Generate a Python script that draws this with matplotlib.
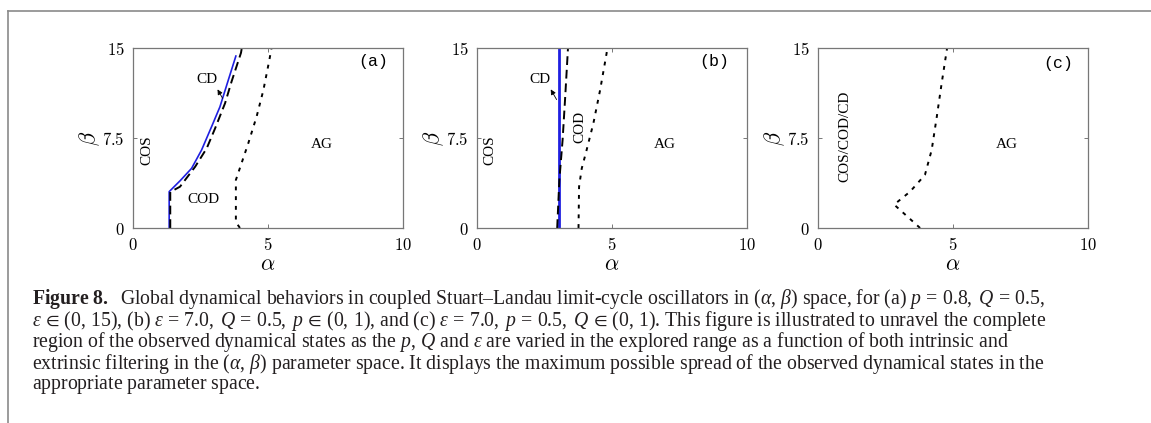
import matplotlib.pyplot as plt
from matplotlib.lines import Line2D

plt.rcParams['mathtext.fontset'] = 'cm'
# caption math uses the body serif (custom fontset, picked per text)
plt.rcParams['mathtext.rm'] = 'Liberation Serif'
plt.rcParams['mathtext.it'] = 'Liberation Serif:italic'
plt.rcParams['mathtext.bf'] = 'Liberation Serif:bold'
plt.rcParams['mathtext.fallback'] = 'stix'

# panel (a): p = 0.8, Q = 0.5
a_cd_alpha = [1.34, 1.34, 1.75, 2.17, 2.54, 2.91, 3.22, 3.53, 3.81]
a_cd_beta = [0, 3.03, 3.95, 4.97, 6.5, 8.44, 10.1, 12.33, 14.33]
a_cod_alpha = [1.38, 1.38, 1.74, 2.30, 2.73, 3.04, 3.41, 3.65, 4.0, 4.03]
a_cod_beta = [0, 3.0, 3.44, 5.1, 6.64, 8.3, 10.4, 12.2, 14.6, 15]
a_ag_alpha = [3.96, 3.81, 3.81, 4.02, 4.27, 4.58, 4.83, 5.05, 5.13]
a_ag_beta = [0, 0.5, 4.0, 5.4, 7.06, 9.3, 11.5, 14.0, 15]

# panel (b): eps = 7.0, Q = 0.5
b_cd_alpha = [3.02, 3.02]
b_cd_beta = [0, 15]
b_cod_alpha = [2.97, 3.05, 3.17, 3.26, 3.37]
b_cod_beta = [0, 4.0, 7.33, 10.67, 15]
b_ag_alpha = [3.76, 3.78, 3.88, 4.06, 4.31, 4.56, 4.80, 4.82]
b_ag_beta = [0, 3.44, 4.97, 6.5, 8.72, 11.5, 14.56, 15]

# panel (c): eps = 7.0, p = 0.5
c_ag_alpha = [3.78, 2.82, 3.41, 3.96, 4.21, 4.40, 4.58, 4.77, 4.78]
c_ag_beta = [0, 1.95, 3.03, 4.42, 6.5, 9.28, 12.06, 14.83, 15]

x_ticks = [0, 5, 10]
y_ticks = [0, 7.5, 15]
x_ticklabels = ['$0$', '$5$', '$10$']
y_ticklabels = ['$0$', '$7.5$', '$15$']

W, H = 1151, 423
fig = plt.figure(figsize=(W / 100, H / 100), dpi=100)

# partial frame around the figure
fig.add_artist(Line2D([8 / W, 1], [1 - 11 / H, 1 - 11 / H], color='#8a8a8a', lw=1.2))
fig.add_artist(Line2D([8 / W, 8 / W], [0, 1 - 11 / H], color='#8a8a8a', lw=1.2))

lefts = [133, 477, 818]
axes = []
for lx in lefts:
    ax = fig.add_axes([lx / W, (H - 228) / H, 270 / W, 180 / H])
    ax.set_xlim(0, 10)
    ax.set_ylim(0, 15)
    ax.set_xticks(x_ticks)
    ax.set_yticks(y_ticks)
    ax.set_xticklabels(x_ticklabels, fontsize=12)
    ax.set_yticklabels(y_ticklabels, fontsize=12)
    ax.tick_params(direction='in', length=3, width=0.7, color='#777777',
                   top=True, right=True, pad=6)
    for s in ax.spines.values():
        s.set_color('#777777')
        s.set_linewidth(0.9)
    ax.set_xlabel(r'$\alpha$', fontsize=16, labelpad=0)
    ax.set_ylabel(r'$\beta$', fontsize=16, labelpad=0.5)
    axes.append(ax)

dash = (0, (4.5, 2.5))
dot = (0, (2, 3))
txt = dict(family='Liberation Serif', fontsize=11)
mono = dict(family='Liberation Mono', fontsize=12)
arrow = dict(arrowstyle='-|>,head_length=0.3,head_width=0.15', color='black', lw=0.6)

ax = axes[0]
ax.plot(a_cd_alpha, a_cd_beta, color='#1f1fe0', lw=1.2)
ax.plot(a_cod_alpha, a_cod_beta, color='black', lw=1.4, linestyle=dash)
ax.plot(a_ag_alpha, a_ag_beta, color='black', lw=1.4, linestyle=dot)
ax.text(0.5, 6.5, 'COS', rotation=90, ha='center', va='center', **txt)
ax.text(2.6, 2.4, 'COD', ha='center', va='center', **txt)
ax.text(7.0, 7.0, 'AG', ha='center', va='center', **txt)
ax.text(2.73, 12.4, 'CD', ha='center', va='center', **txt)
ax.annotate('', xy=(3.08, 11.75), xytext=(3.37, 10.6), arrowprops=arrow)
ax.text(8.9, 13.9, '(a)', ha='center', va='center', **mono)

ax = axes[1]
ax.plot(b_cd_alpha, b_cd_beta, color='#1f1fe0', lw=2.0)
ax.plot(b_cod_alpha, b_cod_beta, color='black', lw=1.4, linestyle=dash)
ax.plot(b_ag_alpha, b_ag_beta, color='black', lw=1.4, linestyle=dot)
ax.text(0.48, 6.5, 'COS', rotation=90, ha='center', va='center', **txt)
ax.text(3.81, 8.44, 'COD', rotation=90, ha='center', va='center', **txt)
ax.text(6.96, 7.0, 'AG', ha='center', va='center', **txt)
ax.text(2.33, 12.4, 'CD', ha='center', va='center', **txt)
ax.annotate('', xy=(2.68, 11.75), xytext=(3.0, 10.5), arrowprops=arrow)
ax.text(8.8, 13.9, '(b)', ha='center', va='center', **mono)

ax = axes[2]
ax.plot(c_ag_alpha, c_ag_beta, color='black', lw=1.4, linestyle=dot)
ax.text(1.0, 7.6, 'COS/COD/CD', rotation=90, ha='center', va='center', **txt)
ax.text(6.99, 7.0, 'AG', ha='center', va='center', **txt)
ax.text(8.9, 13.7, '(c)', ha='center', va='center', **mono)

# caption, one text block so the lines share one layout
lines = [
    r'$\mathbf{Figure\ 8.}$  Global dynamical behaviors in coupled Stuart–Landau limit-cycle oscillators in $(\alpha,\,\beta)$ space, for (a) $p\,=\,0.8,\;Q\,=\,0.5$,',
    r'$\varepsilon\,\in\,(0,\,15)$, (b) $\varepsilon\,=\,7.0,\;Q\,=\,0.5,\;p\,\in\,(0,\,1)$, and (c) $\varepsilon\,=\,7.0,\;p\,=\,0.5,\;Q\,\in\,(0,\,1)$. This figure is illustrated to unravel the complete',
    r'region of the observed dynamical states as the $p,\,Q$ and $\varepsilon$ are varied in the explored range as a function of both intrinsic and',
    r'extrinsic filtering in the $(\alpha,\,\beta)$ parameter space. It displays the maximum possible spread of the observed dynamical states in the',
    r'appropriate parameter space.$\,$',
]
fig.text(32 / W, 1 - 287 / H, '\n'.join(lines), family='Liberation Serif',
         fontsize=14.2, color='#231f20', math_fontfamily='custom',
         va='top', ha='left', linespacing=0.855)

fig.savefig('out.png', dpi=100)
